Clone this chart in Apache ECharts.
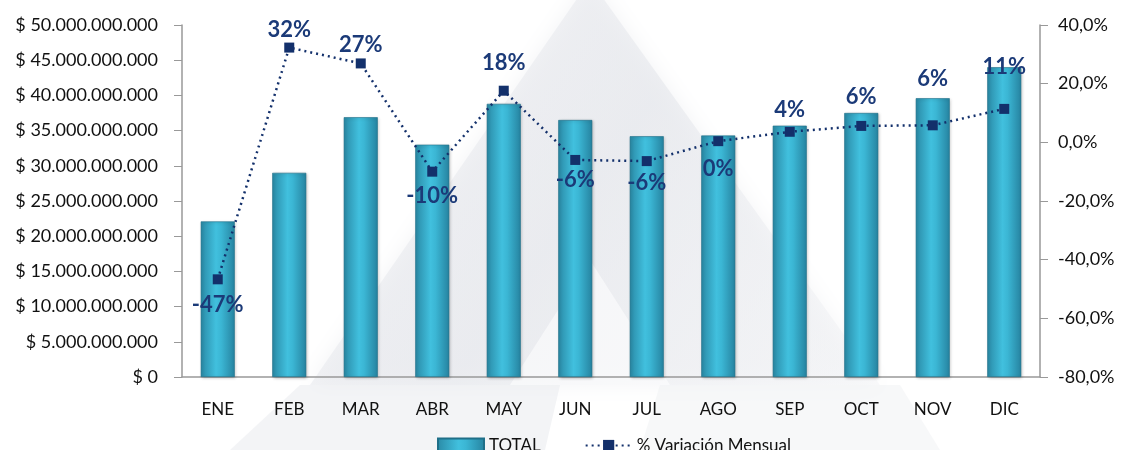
<!DOCTYPE html>
<html>
<head>
<meta charset="utf-8">
<script src="https://cdn.jsdelivr.net/npm/echarts@6/dist/echarts.min.js"></script>
<style>
    html, body { margin: 0; padding: 0; background: #fff; }
    #chart { width: 1122px; height: 450px; }
</style>
</head>
<body>
<div id="chart"></div>
<script>
var months = ["ENE", "FEB", "MAR", "ABR", "MAY", "JUN", "JUL", "AGO", "SEP", "OCT", "NOV", "DIC"];
// total mensual en pesos
var totals = [22100000000, 29000000000, 36900000000, 33000000000, 38800000000, 36500000000,
              34200000000, 34300000000, 35700000000, 37500000000, 39600000000, 44000000000];
// variacion mensual en %
var variation = [-46.7, 32.3, 26.9, -10.0, 17.6, -6.0, -6.4, 0.4, 3.6, 5.6, 5.8, 11.4];

var myChart = echarts.init(document.getElementById("chart"));
var fontName = "Lato";
var navy = "#13306b";

// donde va la etiqueta de cada punto (arriba / abajo)
var labelPlace = [
    ["bottom", 10], ["top", 2], ["top", 3], ["bottom", 8], ["top", 12], ["bottom", 4],
    ["bottom", 6], ["bottom", 12], ["top", 6], ["top", 13], ["top", 30], ["top", 26]
];

function formatMoney(v){
    var s = Math.round(v).toString();
    return "$ " + s.replace(/\B(?=(\d{3})+(?!\d))/g, ".");
}

var barColor = new echarts.graphic.LinearGradient(0, 0, 1, 0, [
    {offset: 0, color: "#2a8aa6"},
    {offset: 0.45, color: "#41c0de"},
    {offset: 0.6, color: "#3bb6d4"},
    {offset: 1, color: "#2683a0"}
]);

var lineData = [];
for(var i = 0; i < variation.length; i++){
    lineData.push({
        value: variation[i],
        label: {
            position: labelPlace[i][0],
            distance: labelPlace[i][1]
        }
    });
}

var option = {
    backgroundColor: "#fff",
    textStyle: { fontFamily: fontName },
    graphic: [{
        type: "polygon",
        z: -10,
        shape: { points: [[590, -20], [310, 385], [880, 385]] },
        style: {
            fill: new echarts.graphic.LinearGradient(0, 0, 1, 1, [
                {offset: 0, color: "rgba(238,239,242,0.5)"},
                {offset: 0.5, color: "rgba(228,230,235,0.6)"},
                {offset: 1, color: "rgba(240,241,244,0.4)"}
            ]),
            shadowBlur: 20,
            shadowColor: "rgba(220,222,228,0.6)"
        }
    }, {
        type: "polygon",
        z: -9,
        shape: { points: [[590, 260], [510, 385], [670, 385]] },
        style: { fill: "rgba(255,255,255,0.55)" }
    }, {
        type: "polygon",
        z: -10,
        shape: { points: [[300, 385], [560, 385], [545, 450], [230, 450]] },
        style: { fill: "rgba(232,234,238,0.5)" }
    }, {
        type: "polygon",
        z: -10,
        shape: { points: [[660, 385], [900, 385], [940, 450], [640, 450]] },
        style: { fill: "rgba(238,239,242,0.45)" }
    }],
    legend: {
        left: 432,
        top: 432,
        itemGap: 44,
        itemWidth: 46,
        itemHeight: 14,
        textStyle: { fontFamily: fontName, fontSize: 17, color: "#111" },
        data: [
            { name: "TOTAL", icon: "rect" },
            { name: "% Variación Mensual" }
        ]
    },
    grid: {
        left: 182,
        right: 82,
        top: 25,
        bottom: 73
    },
    xAxis: {
        type: "category",
        data: months,
        axisLine: { lineStyle: { color: "#999", width: 1.5 } },
        axisTick: { length: 7, lineStyle: { color: "#999" } },
        axisLabel: { color: "#111", fontSize: 17, margin: 24 }
    },
    yAxis: [{
        type: "value",
        min: 0,
        max: 50000000000,
        interval: 5000000000,
        axisLine: { show: true, lineStyle: { color: "#999", width: 1.5 } },
        axisTick: { show: true, length: 8, lineStyle: { color: "#999" } },
        splitLine: { show: false },
        axisLabel: {
            color: "#111",
            fontSize: 18,
            margin: 24,
            formatter: formatMoney
        }
    }, {
        type: "value",
        min: -80,
        max: 40,
        interval: 20,
        axisLine: { show: true, lineStyle: { color: "#999", width: 1.5 } },
        axisTick: { show: true, length: 8, lineStyle: { color: "#999" } },
        splitLine: { show: false },
        axisLabel: {
            color: "#111",
            fontSize: 18,
            margin: 18,
            formatter: function(v){
                return v.toFixed(1).replace(".", ",") + "%";
            }
        }
    }],
    series: [{
        name: "TOTAL",
        type: "bar",
        barWidth: 34,
        data: totals,
        itemStyle: {
            color: barColor,
            borderColor: "#1f6f88",
            borderWidth: 0.6,
            shadowColor: "rgba(0,0,0,0.25)",
            shadowBlur: 3,
            shadowOffsetX: 1,
            shadowOffsetY: 1
        }
    }, {
        name: "% Variación Mensual",
        type: "line",
        yAxisIndex: 1,
        data: lineData,
        symbol: "rect",
        symbolSize: 10,
        z: 5,
        lineStyle: { color: navy, width: 2.5, type: [2, 4] },
        itemStyle: { color: navy },
        label: {
            show: true,
            color: "#1b3a78",
            fontSize: 22,
            fontWeight: "bold",
            fontFamily: fontName,
            formatter: function(p){
                return Math.round(p.value) + "%";
            }
        }
    }]
};

myChart.setOption(option);
window.onresize = myChart.resize;
</script>
</body>
</html>
